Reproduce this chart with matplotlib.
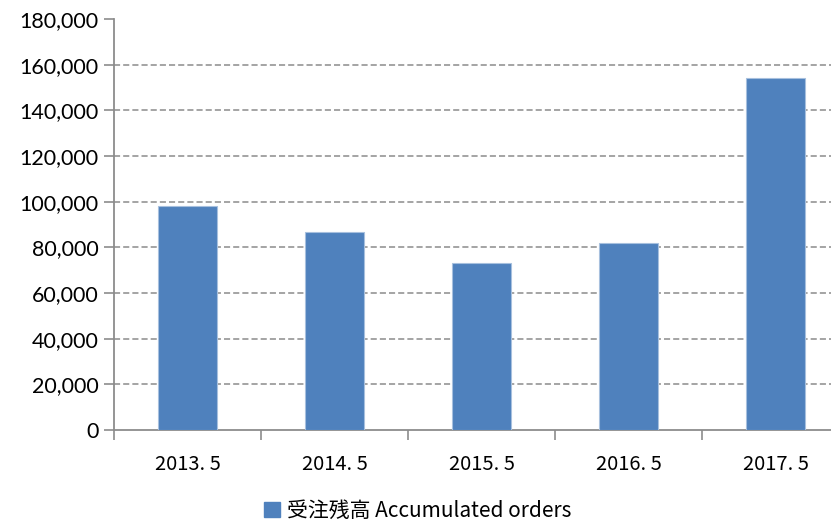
import matplotlib
matplotlib.use("Agg")
import matplotlib.pyplot as plt
from matplotlib.ticker import FuncFormatter, FixedLocator
from matplotlib.patches import Patch

categories = ["2013. 5", "2014. 5", "2015. 5", "2016. 5", "2017. 5"]
values = [98000, 86700, 73200, 81900, 154200]
yticks = [0, 20000, 40000, 60000, 80000, 100000, 120000, 140000, 160000, 180000]
legend_label = "受注残高 Accumulated orders"

W, H = 831, 523
fig = plt.figure(figsize=(W / 100, H / 100), dpi=100)
left, right, top, bottom = 114, 849, 19, 430
ax = fig.add_axes([left / W, 1 - bottom / H, (right - left) / W, (bottom - top) / H])

bar_color = "#4F81BD"
grid_color = "#8C8C8C"
xs = list(range(len(categories)))
ax.bar(xs, values, width=0.4, color=bar_color, edgecolor="#A7C0DE", linewidth=0.8, zorder=3)

ax.set_xlim(-0.5, len(categories) - 0.5)
ax.set_ylim(0, 180000)
ax.set_yticks(yticks)
ax.yaxis.set_major_formatter(FuncFormatter(lambda v, p: f"{int(v):,}"))
for y in yticks[1:-1]:
    ax.axhline(y, color=grid_color, linestyle=(0, (4, 2)), linewidth=1.1, zorder=1)

ax.set_xticks(xs)
ax.set_xticklabels(categories, family=["Noto Sans CJK JP", "DejaVu Sans"], fontsize=14.5)
ax.xaxis.set_minor_locator(FixedLocator([i - 0.5 for i in range(len(categories) + 1)]))
ax.tick_params(axis="x", which="major", length=0, pad=17)
ax.tick_params(axis="x", which="minor", length=7, color=grid_color, width=1.2)
ax.tick_params(axis="y", length=7, color=grid_color, width=1.2, labelsize=15.5, pad=4)
for lab in ax.get_yticklabels():
    lab.set_family(["Lato", "DejaVu Sans"])
    lab.set_color("#000000")
for lab in ax.get_xticklabels():
    lab.set_color("#000000")

for s in ["top", "right"]:
    ax.spines[s].set_visible(False)
for s in ["left", "bottom"]:
    ax.spines[s].set_color(grid_color)
    ax.spines[s].set_linewidth(1.3)

handle = Patch(facecolor=bar_color, edgecolor=bar_color)
fig.legend([handle], [legend_label], loc="center", bbox_to_anchor=(418 / W, 1 - 511 / H),
           frameon=False, handlelength=0.75, handleheight=0.75, handletextpad=0.35,
           borderpad=0.1, prop={"family": ["Noto Sans CJK JP", "DejaVu Sans"], "size": 15})

fig.savefig("out.png", dpi=100)
